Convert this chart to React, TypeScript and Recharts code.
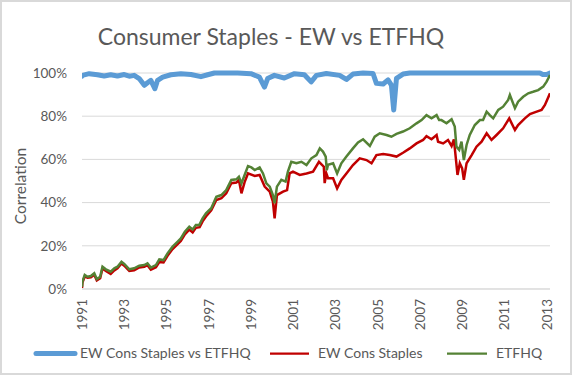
import { LineChart, Line, XAxis, YAxis, CartesianGrid } from "recharts"

// Correlation of the equal-weight index with ETFHQ (%)
const CORR_YEARS = [
  1991.0, 1991.02, 1991.34, 1991.73, 1992.05, 1992.36, 1992.68, 1993.0, 1993.24, 1993.47,
  1993.71, 1993.95, 1994.1, 1994.26, 1994.45, 1994.58, 1994.82, 1995.21, 1995.68, 1996.16,
  1996.63, 1996.95, 1997.27, 1998.37, 1999.0, 1999.4, 1999.64, 1999.79, 2000.11, 2000.58,
  2001.06, 2001.53, 2001.85, 2002.1, 2002.57, 2003.2, 2003.52, 2003.83, 2004.31, 2004.78,
  2004.94, 2005.26, 2005.49, 2005.65, 2005.76, 2005.89, 2006.2, 2006.52, 2012.68, 2012.82,
  2013.0, 2013.16,
]
const CORR_VALUES = [
  98.6, 98.9, 99.7, 99.2, 98.6, 99.2, 98.6, 99.3, 98.5, 98.9,
  97.4, 94.3, 95.5, 96.6, 92.7, 96.6, 98.1, 99.2, 99.7, 99.3,
  98.3, 99.2, 100, 100, 99.7, 98.1, 93.5, 97.4, 98.9, 97.7,
  99.7, 99.2, 95.9, 98.9, 99.8, 98.9, 97.0, 99.5, 100, 99.8,
  95.2, 94.9, 96.8, 94.4, 82.9, 97.5, 99.5, 100, 100, 99.3,
  99.3, 100,
]

// EW Cons Staples (cumulative, %)
const EW_YEARS = [
  1991.0, 1991.02, 1991.13, 1991.26, 1991.42, 1991.58, 1991.7, 1991.86, 1991.97, 1992.13,
  1992.36, 1992.53, 1992.68, 1992.87, 1993.0, 1993.24, 1993.47, 1993.71, 1993.95, 1994.1,
  1994.26, 1994.5, 1994.66, 1994.86, 1995.05, 1995.29, 1995.53, 1995.68, 1995.87, 1996.08,
  1996.24, 1996.39, 1996.57, 1996.71, 1996.87, 1997.12, 1997.36, 1997.6, 1997.83, 1998.07,
  1998.31, 1998.43, 1998.55, 1998.7, 1998.86, 1999.18, 1999.41, 1999.65, 1999.89, 2000.04,
  2000.12, 2000.23, 2000.52, 2000.71, 2000.83, 2000.99, 2001.31, 2001.63, 2001.94, 2002.22,
  2002.45, 2002.49, 2002.57, 2002.65, 2002.89, 2003.08, 2003.28, 2003.52, 2003.83, 2004.15,
  2004.47, 2004.71, 2004.94, 2005.26, 2005.57, 2005.89, 2006.2, 2006.52, 2006.84, 2007.15,
  2007.31, 2007.55, 2007.79, 2007.86, 2008.1, 2008.33, 2008.5, 2008.61, 2008.71, 2008.78,
  2008.89, 2009.0, 2009.08, 2009.21, 2009.45, 2009.68, 2009.92, 2010.16, 2010.39, 2010.63,
  2010.94, 2011.23, 2011.5, 2011.65, 2011.97, 2012.21, 2012.53, 2012.76, 2012.92, 2013.16,
]
const EW_VALUES = [
  0.5, 3.0, 5.8, 5.2, 5.4, 6.6, 4.0, 5.0, 9.5, 8.4,
  7.0, 8.6, 9.6, 11.8, 10.8, 8.4, 8.7, 10.0, 10.3, 11.0,
  8.9, 10.1, 12.5, 12.3, 15.4, 18.5, 20.8, 22.2, 25.3, 27.5,
  26.2, 28.3, 28.6, 31.3, 33.6, 36.4, 41.2, 42.0, 44.3, 49.0,
  49.3, 50.5, 44.3, 49.5, 53.5, 52.3, 52.8, 47.4, 45.1, 40.4,
  32.7, 43.5, 45.1, 45.8, 53.5, 54.3, 52.8, 53.5, 54.3, 58.9,
  56.6, 49.0, 53.5, 51.3, 51.3, 46.6, 50.5, 53.5, 57.4, 60.5,
  59.7, 58.2, 62.0, 62.5, 62.0, 61.3, 63.1, 65.1, 67.4, 69.0,
  70.8, 69.3, 71.3, 68.2, 67.4, 69.0, 66.2, 69.3, 59.7, 52.8,
  58.2, 55.9, 50.5, 58.2, 62.0, 65.9, 68.2, 72.1, 69.0, 71.3,
  74.4, 79.0, 73.6, 75.9, 79.0, 81.0, 82.1, 82.9, 85.2, 90.6,
]

// ETFHQ (cumulative, %)
const ETF_YEARS = [
  1991.0, 1991.02, 1991.13, 1991.26, 1991.42, 1991.58, 1991.7, 1991.86, 1991.97, 1992.13,
  1992.36, 1992.53, 1992.68, 1992.87, 1993.0, 1993.24, 1993.47, 1993.71, 1993.95, 1994.1,
  1994.26, 1994.5, 1994.66, 1994.86, 1995.05, 1995.29, 1995.53, 1995.68, 1995.87, 1996.08,
  1996.24, 1996.39, 1996.55, 1996.71, 1996.87, 1997.12, 1997.36, 1997.6, 1997.83, 1998.07,
  1998.31, 1998.43, 1998.55, 1998.7, 1998.86, 1999.02, 1999.18, 1999.41, 1999.57, 1999.73,
  1999.89, 2000.04, 2000.12, 2000.23, 2000.44, 2000.64, 2000.75, 2000.91, 2001.15, 2001.39,
  2001.63, 2001.86, 2002.1, 2002.26, 2002.41, 2002.54, 2002.59, 2002.65, 2002.89, 2003.08,
  2003.28, 2003.52, 2003.83, 2004.07, 2004.31, 2004.63, 2004.86, 2005.1, 2005.42, 2005.65,
  2005.89, 2006.2, 2006.52, 2006.84, 2007.08, 2007.31, 2007.55, 2007.79, 2007.91, 2008.02,
  2008.26, 2008.5, 2008.65, 2008.73, 2008.86, 2008.97, 2009.08, 2009.21, 2009.36, 2009.6,
  2009.84, 2009.99, 2010.16, 2010.31, 2010.47, 2010.71, 2010.94, 2011.18, 2011.26, 2011.5,
  2011.65, 2011.89, 2012.13, 2012.36, 2012.6, 2012.84, 2013.0, 2013.16,
]
const ETF_VALUES = [
  1.0, 3.4, 6.5, 5.7, 6.0, 7.3, 4.6, 5.7, 10.3, 9.1,
  8.0, 9.6, 10.3, 12.6, 11.6, 9.1, 9.6, 10.8, 11.1, 11.9,
  9.9, 11.1, 13.7, 13.4, 16.5, 19.6, 21.9, 23.4, 26.5, 28.8,
  27.6, 29.6, 29.6, 32.7, 35.0, 37.4, 42.7, 43.5, 45.8, 50.5,
  50.8, 52.0, 48.9, 52.8, 56.9, 56.3, 55.1, 56.3, 53.5, 48.9,
  47.4, 43.5, 39.7, 47.4, 50.5, 49.7, 54.3, 58.9, 58.2, 58.9,
  57.4, 60.5, 62.0, 65.1, 63.6, 61.3, 55.0, 57.5, 58.2, 53.5,
  58.2, 61.3, 65.1, 67.8, 69.3, 66.2, 70.5, 72.1, 71.3, 70.5,
  71.8, 72.9, 74.4, 76.7, 78.2, 80.5, 79.0, 80.5, 78.2, 78.2,
  76.7, 78.6, 75.2, 65.9, 64.4, 68.2, 59.7, 66.7, 71.3, 75.9,
  78.2, 78.2, 82.1, 80.5, 79.0, 82.9, 84.4, 87.5, 89.8, 83.7,
  86.7, 89.0, 90.6, 91.3, 92.1, 93.7, 96.0, 99.1,
]

const YEAR_TICKS = [1991, 1993, 1995, 1997, 1999, 2001, 2003, 2005, 2007, 2009, 2011, 2013]
const PCT_TICKS = [0, 20, 40, 60, 80, 100]

const SERIES_NAMES = ["EW Cons Staples vs ETFHQ", "EW Cons Staples", "ETFHQ"]
const COLOURS = { corr: "#5B9BD5", ew: "#C00000", etf: "#548235" }

const FONT = "Lato, 'Open Sans', sans-serif"
const TEXT = "#595959"

function zip(years: number[], values: number[]) {
  return years.map((year, i) => ({ year, value: values[i] }))
}

function YearTick(props: any) {
  const { x, payload } = props
  const y = 299
  return (
    <text
      x={x}
      y={y}
      transform={`rotate(-90 ${x} ${y})`}
      textAnchor="end"
      dominantBaseline="central"
      fill={TEXT}
      fontSize={13.5}
      fontFamily={FONT}
    >
      {payload.value}
    </text>
  )
}

export default function App() {
  const corr = zip(CORR_YEARS, CORR_VALUES)
  const ew = zip(EW_YEARS, EW_VALUES)
  const etf = zip(ETF_YEARS, ETF_VALUES)

  return (
    <div
      style={{
        position: "absolute",
        left: 0,
        top: 0,
        width: 572,
        height: 375,
        boxSizing: "border-box",
        border: "2px solid #d9d9d9",
        background: "#fff",
        overflow: "hidden",
      }}
    >
      <div style={{ position: "absolute", left: -2, top: -2 }}>
        <LineChart width={572} height={375} margin={{ top: 73, right: 22, bottom: 36, left: 0 }}>
          <CartesianGrid vertical={false} stroke="#d9d9d9" strokeWidth={1} />
          <XAxis
            dataKey="year"
            type="number"
            domain={[1991, 2013.16]}
            ticks={YEAR_TICKS}
            interval={0}
            allowDataOverflow
            height={50}
            tickLine={false}
            axisLine={{ stroke: "#d9d9d9" }}
            tick={<YearTick />}
          />
          <YAxis
            type="number"
            domain={[0, 100]}
            ticks={PCT_TICKS}
            width={82}
            axisLine={false}
            tickLine={false}
            tickSize={6}
            tickMargin={9}
            tickFormatter={(v) => `${v}%`}
            tick={{ fill: TEXT, fontSize: 13.5, fontFamily: FONT }}
          />
          <Line data={corr} dataKey="value" name={SERIES_NAMES[0]} type="linear" stroke={COLOURS.corr} strokeWidth={5} strokeLinecap="round" strokeLinejoin="round" dot={false} isAnimationActive={false} />
          <Line data={ew} dataKey="value" name={SERIES_NAMES[1]} type="linear" stroke={COLOURS.ew} strokeWidth={2.5} dot={false} isAnimationActive={false} />
          <Line data={etf} dataKey="value" name={SERIES_NAMES[2]} type="linear" stroke={COLOURS.etf} strokeWidth={2.5} dot={false} isAnimationActive={false} />
        </LineChart>

        {/* title, axis title and legend */}
        <svg width={572} height={375} style={{ position: "absolute", left: 0, top: 0, pointerEvents: "none" }}>
          <text x={271} y={45} textAnchor="middle" fill={TEXT} fontSize={23} fontFamily={FONT}>
            Consumer Staples - EW vs ETFHQ
          </text>
          <text
            x={20}
            y={186}
            transform="rotate(-90 20 186)"
            textAnchor="middle"
            dominantBaseline="central"
            fill={TEXT}
            fontSize={15.5}
            fontFamily={FONT}
          >
            Correlation
          </text>

          <line x1={36} x2={75} y1={353.5} y2={353.5} stroke={COLOURS.corr} strokeWidth={5} strokeLinecap="round" />
          <text x={80} y={358} fill={TEXT} fontSize={14} fontFamily={FONT}>{SERIES_NAMES[0]}</text>

          <line x1={270} x2={309} y1={353.5} y2={353.5} stroke={COLOURS.ew} strokeWidth={2.25} />
          <text x={318} y={358} fill={TEXT} fontSize={14} fontFamily={FONT}>{SERIES_NAMES[1]}</text>

          <line x1={447} x2={487} y1={353.5} y2={353.5} stroke={COLOURS.etf} strokeWidth={2.25} />
          <text x={496} y={358} fill={TEXT} fontSize={14} fontFamily={FONT}>{SERIES_NAMES[2]}</text>
        </svg>
      </div>
    </div>
  )
}
